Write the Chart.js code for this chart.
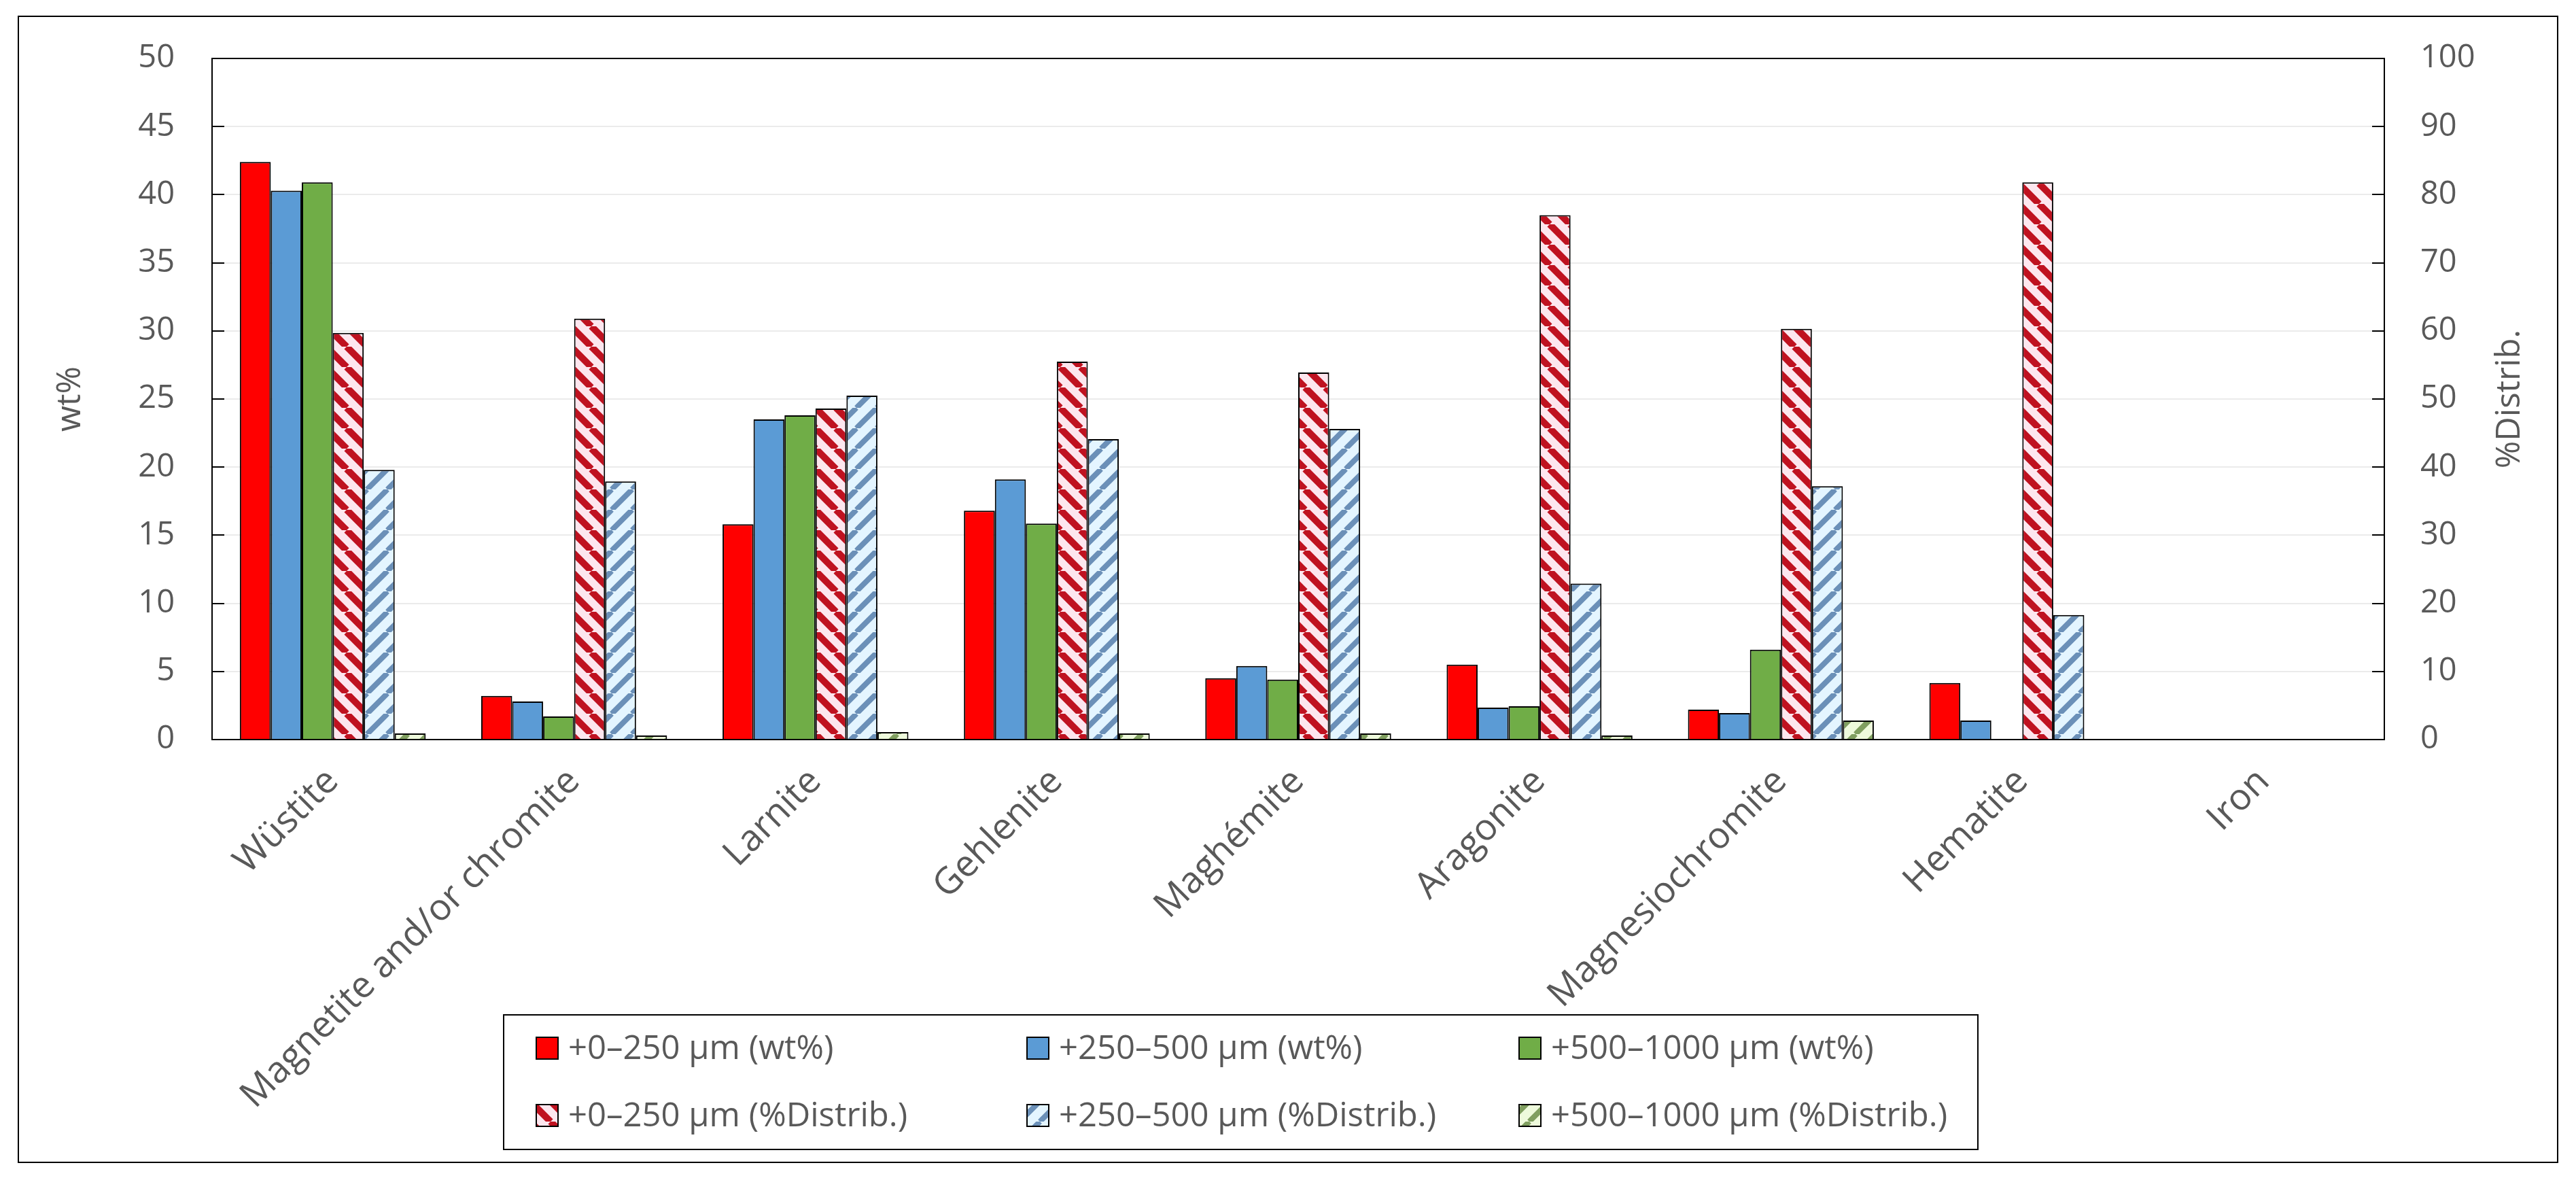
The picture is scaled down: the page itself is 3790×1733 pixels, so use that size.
<!DOCTYPE html>
<html lang="en">
<head>
<meta charset="UTF-8">
<title>phases by size fraction</title>
<script src="https://cdn.jsdelivr.net/npm/chart.js@4.4.1/dist/chart.umd.min.js"></script>
<style>
  html, body { margin: 0; padding: 0; background: #fff; }
  canvas { display: block; }
</style>
</head>
<body>
<canvas id="chart" width="3790" height="1733"></canvas>
<script>
// categories (x axis)
var phases = ["Wüstite", "Magnetite and/or chromite", "Larnite", "Gehlenite", "Maghémite",
              "Aragonite", "Magnesiochromite", "Hematite", "Iron"];

// wt% (left axis)
var wt_0_250     = [42.4, 3.2, 15.8, 16.8, 4.5, 5.5, 2.2, 4.15, null];
var wt_250_500   = [40.3, 2.8, 23.5, 19.1, 5.4, 2.35, 1.95, 1.4, null];
var wt_500_1000  = [40.9, 1.7, 23.8, 15.85, 4.4, 2.45, 6.6, null, null];

// %Distrib. (right axis)
var dist_0_250    = [59.7, 61.8, 48.6, 55.5, 53.9, 77.0, 60.3, 81.8, null];
var dist_250_500  = [39.6, 37.9, 50.5, 44.1, 45.6, 22.9, 37.2, 18.3, null];
var dist_500_1000 = [0.9, 0.6, 1.1, 0.9, 0.9, 0.6, 2.8, null, null];

var seriesNames = ["+0–250 µm (wt%)", "+250–500 µm (wt%)", "+500–1000 µm (wt%)",
                   "+0–250 µm (%Distrib.)", "+250–500 µm (%Distrib.)", "+500–1000 µm (%Distrib.)"];

var leftTitle = "wt%";
var rightTitle = "%Distrib.";

var FONT = "'Open Sans', sans-serif";
var GREY = "#595959";

function stripes(bg, fg, size, width, dir) {
	var c = document.createElement("canvas");
	c.width = size; c.height = size;
	var g = c.getContext("2d");
	g.fillStyle = bg;
	g.fillRect(0, 0, size, size);
	g.strokeStyle = fg;
	g.lineWidth = width;
	g.beginPath();
	for (var k = -1; k <= 1; k++) {
		if (dir == "down") {
			g.moveTo(k * size, 0); g.lineTo(k * size + size, size);
		} else {
			g.moveTo(k * size, size); g.lineTo(k * size + size, 0);
		}
	}
	g.stroke();
	return g.createPattern(c, "repeat");
}

var ctx0 = document.getElementById("chart").getContext("2d");
var redStripe   = stripes("#fde6ee", "#bf1220", 30, 10, "down");
var blueStripe  = stripes("#e4f5ff", "#6b90b8", 30, 8, "up");
var greenStripe = stripes("#eefadc", "#809f60", 30, 8, "up");

var fills = ["#ff0000", "#5b9bd5", "#70ad47", redStripe, blueStripe, greenStripe];
var values = [wt_0_250, wt_250_500, wt_500_1000, dist_0_250, dist_250_500, dist_500_1000];

var datasets = values.map(function(v, i) {
	return {
		label: seriesNames[i],
		data: v,
		yAxisID: i < 3 ? "y" : "y2",
		backgroundColor: fills[i],
		borderColor: "#000",
		borderWidth: 2,
		borderSkipped: "bottom",
		categoryPercentage: 0.77,
		barPercentage: 1.0
	};
});

var decor = {
	id: "decor",
	beforeDraw: function(chart) {
		var c = chart.ctx;
		c.save();
		c.fillStyle = "#fff";
		c.fillRect(0, 0, chart.width, chart.height);
		c.restore();
	},
	afterDraw: function(chart) {
		var c = chart.ctx, a = chart.chartArea;
		var yl = chart.scales.y, yr = chart.scales.y2;
		c.save();

		// inward tick marks
		c.strokeStyle = "#000";
		c.lineWidth = 2;
		c.beginPath();
		yl.ticks.forEach(function(t) {
			var py = Math.round(yl.getPixelForValue(t.value));
			c.moveTo(a.left, py); c.lineTo(a.left + 18, py);
		});
		yr.ticks.forEach(function(t) {
			var py = Math.round(yr.getPixelForValue(t.value));
			c.moveTo(a.right, py); c.lineTo(a.right - 18, py);
		});
		c.stroke();

		// plot frame
		c.lineWidth = 2;
		c.strokeRect(a.left, a.top, a.right - a.left, a.bottom - a.top);

		// axis titles (both read bottom to top)
		c.fillStyle = GREY;
		c.font = "49px " + FONT;
		c.textAlign = "center";
		c.textBaseline = "middle";
		var midY = (a.top + a.bottom) / 2;
		c.save();
		c.translate(104, midY);
		c.rotate(-Math.PI / 2);
		c.fillText(leftTitle, 0, 0);
		c.restore();
		c.save();
		c.translate(3693, midY);
		c.rotate(-Math.PI / 2);
		c.fillText(rightTitle, 0, 0);
		c.restore();

		// legend, 3 columns x 2 rows
		var box = { x: 741, y: 1493, w: 2169, h: 198 };
		c.strokeStyle = "#000";
		c.lineWidth = 2;
		c.strokeRect(box.x, box.y, box.w, box.h);
		var cols = [789, 1511, 2235], rows = [1542, 1641];
		c.font = "49px " + FONT;
		c.textAlign = "left";
		chart.data.datasets.forEach(function(ds, i) {
			var x = cols[i % 3], y = rows[Math.floor(i / 3)];
			c.fillStyle = ds.backgroundColor;
			c.fillRect(x, y - 16, 32, 32);
			c.lineWidth = 2;
			c.strokeStyle = "#000";
			c.strokeRect(x, y - 16, 32, 32);
			c.fillStyle = GREY;
			c.fillText(ds.label, x + 47, y + 2);
		});

		// outer border
		c.lineWidth = 2;
		c.strokeStyle = "#000";
		c.strokeRect(27, 24, 3736, 1686);
		c.restore();
	}
};

new Chart(ctx0, {
	type: "bar",
	data: { labels: phases, datasets: datasets },
	options: {
		responsive: false,
		animation: false,
		devicePixelRatio: 1,
		layout: { padding: { top: 86, left: 0, right: 0, bottom: 0 } },
		plugins: {
			legend: { display: false },
			tooltip: { enabled: false }
		},
		scales: {
			x: {
				grid: { display: false, drawTicks: false },
				border: { display: false },
				ticks: {
					autoSkip: false,
					maxRotation: 45,
					minRotation: 45,
					padding: 30,
					color: GREY,
					font: { family: FONT, size: 54 }
				},
				afterFit: function(s) { s.height = 645; }
			},
			y: {
				position: "left",
				min: 0, max: 50,
				ticks: { stepSize: 5, padding: 55, color: GREY, font: { family: FONT, size: 47 } },
				grid: { color: "#ebebeb", lineWidth: 2, drawTicks: false },
				border: { display: false },
				afterFit: function(s) { s.width = 312; }
			},
			y2: {
				position: "right",
				min: 0, max: 100,
				ticks: { stepSize: 10, padding: 53, color: GREY, font: { family: FONT, size: 47 } },
				grid: { display: false, drawTicks: false },
				border: { display: false },
				afterFit: function(s) { s.width = 3790 - 3508; }
			}
		}
	},
	plugins: [decor]
});
</script>
</body>
</html>
